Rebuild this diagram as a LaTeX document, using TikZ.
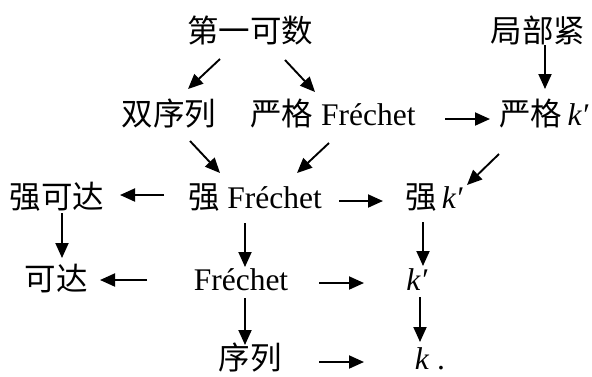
\documentclass[tikz,border=0pt]{standalone}
\usepackage{fontspec}
\setmainfont{Liberation Serif}
\newfontfamily\cjk{Noto Sans CJK SC}
\usetikzlibrary{arrows.meta}
\begin{document}
\begin{tikzpicture}[x=1pt,y=-1pt,
  lbl/.style={inner sep=0pt, anchor=base, font=\fontsize{31.5}{38}\selectfont},
  arr/.style={line width=1.9pt, -{Triangle[length=15pt,width=13pt]}}]
\useasboundingbox (0,0) rectangle (592,376);
\node[lbl] (A) at (250,42) {\cjk 第一可数};
\node[lbl] (B) at (538,42) {\cjk 局部紧};
\node[lbl] (C) at (169,125) {\cjk 双序列};
\node[lbl] (D) at (333,125) {{\cjk 严格} Fréchet};
\node[lbl] (E) at (544,125) {{\cjk 严格}\,\textit{k′}};
\node[lbl] (F) at (57,208) {\cjk 强可达};
\node[lbl] (G) at (255,208) {{\cjk 强} Fréchet};
\node[lbl] (H) at (434,208) {{\cjk 强}\,\textit{k′}};
\node[lbl] (I) at (56,290) {\cjk 可达};
\node[lbl] (J) at (241,290) {Fréchet};
\node[lbl] (K) at (417,290) {\textit{k′}};
\node[lbl] (L) at (250,369) {\cjk 序列};
\node[lbl] (M) at (430,369) {\textit{k}\ .};
\draw[arr] ([shift={(-30,17)}]A.base) -- ([shift={(19,-36)}]C.base);
\draw[arr] ([shift={(35,18)}]A.base) -- ([shift={(-18,-33)}]D.base);
\draw[arr] ([shift={(7,3)}]B.base) -- ([shift={(1,-36)}]E.base);
\draw[arr] ([shift={(112,-6)}]D.base) -- ([shift={(-54,-6)}]E.base);
\draw[arr] ([shift={(21,16)}]C.base) -- ([shift={(-35,-35)}]G.base);
\draw[arr] ([shift={(-4,18)}]D.base) -- ([shift={(42,-35)}]G.base);
\draw[arr] ([shift={(-45,29)}]E.base) -- ([shift={(33,-23)}]H.base);
\draw[arr] ([shift={(-91,-13)}]G.base) -- ([shift={(63,-13)}]F.base);
\draw[arr] ([shift={(84,-7)}]G.base) -- ([shift={(-51,-7)}]H.base);
\draw[arr] ([shift={(5,5)}]F.base) -- ([shift={(6,-32)}]I.base);
\draw[arr] ([shift={(-10,15)}]G.base) -- ([shift={(4,-23)}]J.base);
\draw[arr] ([shift={(-94,-10)}]J.base) -- ([shift={(44,-10)}]I.base);
\draw[arr] ([shift={(78,-7)}]J.base) -- ([shift={(-53,-7)}]K.base);
\draw[arr] ([shift={(-11,14)}]H.base) -- ([shift={(6,-24)}]K.base);
\draw[arr] ([shift={(4,8)}]J.base) -- ([shift={(-5,-24)}]L.base);
\draw[arr] ([shift={(3,7)}]K.base) -- ([shift={(-10,-27)}]M.base);
\draw[arr] ([shift={(69,-7)}]L.base) -- ([shift={(-66,-7)}]M.base);
\end{tikzpicture}
\end{document}
